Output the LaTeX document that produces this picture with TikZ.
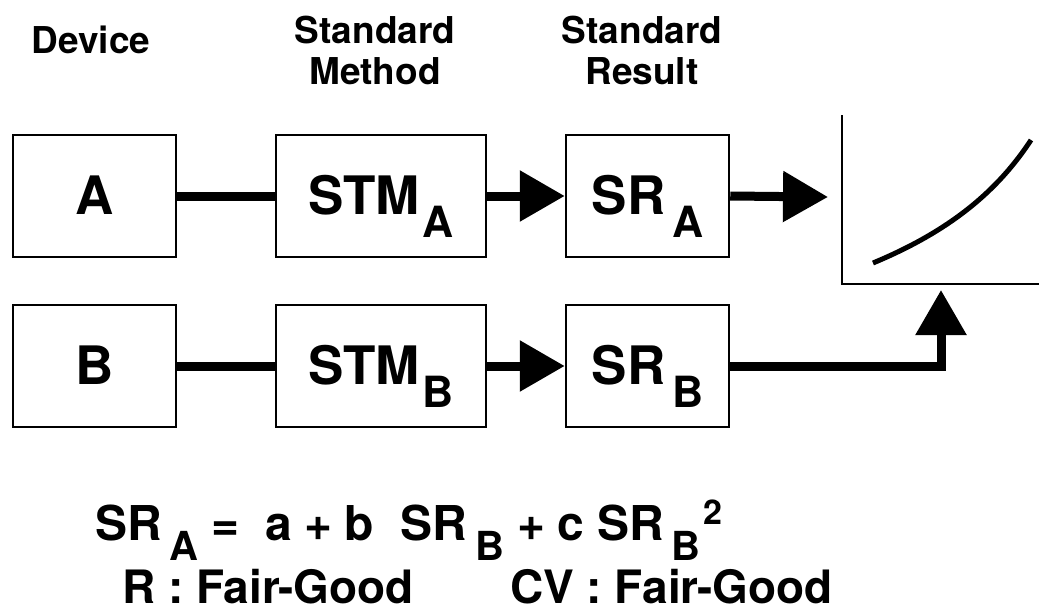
\documentclass[tikz,border=0pt]{standalone}
\usepackage{fontspec}
\setmainfont{TeX Gyre Heros}
\usetikzlibrary{arrows.meta}
\newcommand\boxsub[1]{\raisebox{-23pt}{\fontsize{43}{43}\selectfont #1}}
\newcommand\eqsub[1]{\raisebox{-20pt}{\fontsize{40}{40}\selectfont #1}}
\newcommand\eqsup[1]{\raisebox{16pt}{\fontsize{34}{34}\selectfont #1}}

\begin{document}
\begin{tikzpicture}[x=1pt,y=-1pt,
    box/.style={draw, line width=2.5pt, inner sep=0pt, minimum height=122pt,
      text height=36pt, text depth=0pt, font=\fontsize{53}{53}\selectfont\bfseries},
    head/.style={align=center, font=\fontsize{37}{41}\selectfont\bfseries},
    eqn/.style={anchor=base west, inner sep=0pt, font=\fontsize{48}{48}\selectfont\bfseries},
    note/.style={anchor=base west, inner sep=0pt, font=\fontsize{46}{46}\selectfont\bfseries},
    conn/.style={line width=9pt},
    arr/.style={line width=9pt, -{Triangle[length=45pt,width=49pt]}},
    axis/.style={line width=2.5pt},
    curve/.style={line width=5pt}]
  \useasboundingbox (0,0) rectangle (1045,613);

  % column titles
  \node[head, anchor=base] (device) at (91,53) {Device};
  \node[head, anchor=base] (method) at (375,84) {Standard\\Method};
  \node[head, anchor=base] (result) at (642,84) {Standard\\Result};

  % device A
  \node[box, minimum width=163pt] (a) at (94.5,196) {A};
  \node[box, minimum width=210pt] (stma) at (381,196) {STM\hspace{3pt}\boxsub{A}};
  \node[box, minimum width=163pt] (sra) at (647.5,196) {SR\hspace{7pt}\boxsub{A}};
  \draw[conn] (a.east) -- (stma.west);
  \draw[arr] (stma.east) -- (sra.west);

  % device B
  \node[box, minimum width=163pt] (b) at (94.5,366) {B};
  \node[box, minimum width=210pt] (stmb) at (381,366) {STM\hspace{3pt}\boxsub{B}};
  \node[box, minimum width=163pt] (srb) at (647.5,366) {SR\hspace{7pt}\boxsub{B}};
  \draw[conn] (b.east) -- (stmb.west);
  \draw[arr] (stmb.east) -- (srb.west);

  % regression plot
  \coordinate (origin) at (842,284);
  \draw[axis] (842,115) -- (origin) -- (1039,284);
  \draw[curve] (873,263) .. controls (945,233) and (995,195) .. (1031,140);
  \coordinate (plotin) at (828,197);
  \coordinate (plotup) at (941,290);
  \draw[arr] (sra.east) -- (plotin);
  \draw[arr] (srb.east) -| (plotup);

  % fit and agreement
  \node[eqn] (fit) at (95,540) {SR\hspace{8pt}\eqsub{A}\hspace{13pt}=\hspace{26pt}a\hspace{12pt}+\hspace{12pt}b\hspace{27pt}SR\hspace{8pt}\eqsub{B}\hspace{13pt}+\hspace{12pt}c\hspace{13pt}SR\hspace{8pt}\eqsub{B}\hspace{3pt}\eqsup{2}};
  \node[note] (rval) at (122,603) {R : Fair-Good};
  \node[note] (cvval) at (510,603) {CV : Fair-Good};
\end{tikzpicture}
\end{document}
